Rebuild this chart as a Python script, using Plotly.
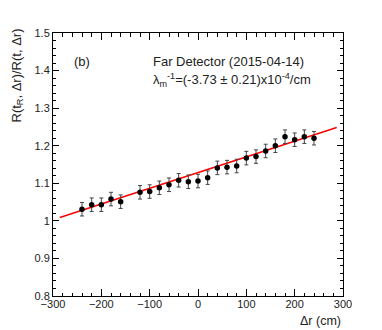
import plotly.graph_objects as go
import numpy as np

# Data
delta_r = [-240, -220, -200, -180, -160, -120, -100, -80, -60, -40, -20, 0, 20,
           40, 60, 80, 100, 120, 140, 160, 180, 200, 220, 240]
ratio = [1.031, 1.043, 1.043, 1.058, 1.051, 1.076, 1.078, 1.088, 1.096, 1.108,
         1.104, 1.106, 1.115, 1.141, 1.143, 1.146, 1.167, 1.171, 1.186, 1.200,
         1.224, 1.216, 1.224, 1.220]
ratio_err = [0.018] * len(delta_r)

fit_intercept = 1.1284
fit_slope = 4.18e-4
fit_range = [-286, 287]

x_ticks = [-300, -200, -100, 0, 100, 200, 300]
y_ticks = [0.8, 0.9, 1.0, 1.1, 1.2, 1.3, 1.4, 1.5]

FONT = "Liberation Sans, Arial, Helvetica, sans-serif"

fit_x = np.linspace(fit_range[0], fit_range[1], 50)
fit_y = fit_intercept + fit_slope * fit_x

fig = go.Figure()
fig.add_trace(go.Scatter(
    x=fit_x, y=fit_y, mode="lines",
    line=dict(color="#ff0000", width=1.5), showlegend=False, hoverinfo="skip"))
fig.add_trace(go.Scatter(
    x=delta_r, y=ratio, mode="markers",
    marker=dict(color="black", size=5.5),
    error_y=dict(type="data", array=ratio_err, color="#444444", thickness=1, width=2),
    showlegend=False))

axis_common = dict(
    showgrid=False, zeroline=False, showline=True, linecolor="black", linewidth=1,
    mirror="allticks", ticks="inside", tickcolor="black",
    tickfont=dict(family=FONT, size=11, color="#222"),
)

fig.update_xaxes(
    range=[-300, 300], tickvals=x_ticks, ticklen=7, ticklabelstandoff=-2,
    minor=dict(dtick=20, ticklen=3.5, ticks="inside", tickcolor="black"),
    **axis_common)
fig.update_yaxes(
    range=[0.8, 1.5], tickvals=y_ticks, ticktext=[("%g" % v) for v in y_ticks],
    ticklen=6, minor=dict(dtick=0.02, ticklen=3, ticks="inside", tickcolor="black"),
    **axis_common)

fig.update_layout(
    width=374, height=322,
    margin=dict(l=45, r=39, t=25, b=34),
    paper_bgcolor="white", plot_bgcolor="white",
    font=dict(family=FONT, color="#222"),
    annotations=[
        dict(text="Δr (cm)", xref="paper", yref="paper", x=1, y=0,
             xanchor="right", yanchor="top", yshift=-16, showarrow=False,
             font=dict(size=12.5, family=FONT)),
        dict(text="R(t<sub>R</sub>, Δr)/R(t, Δr)", xref="paper", yref="paper",
             x=0, y=1, xanchor="left", yanchor="top", xshift=-47, yshift=6,
             textangle=-90, showarrow=False, font=dict(size=13, family=FONT)),
        dict(text="(b)", xref="paper", yref="paper", x=0.064, y=0.89,
             xanchor="left", yanchor="middle", showarrow=False,
             font=dict(size=13, family=FONT)),
        dict(text="Far Detector (2015-04-14)", xref="paper", yref="paper",
             x=0.338, y=0.89, xanchor="left", yanchor="middle", showarrow=False,
             font=dict(size=13, family=FONT)),
        dict(text="λ<sub>m</sub><sup>-1</sup>=(-3.73 ± 0.21)x10<sup>-4</sup>/cm",
             xref="paper", yref="paper", x=0.338, y=0.82, xanchor="left",
             yanchor="middle", showarrow=False, font=dict(size=13, family=FONT)),
    ],
)

fig.write_html("out.html")
